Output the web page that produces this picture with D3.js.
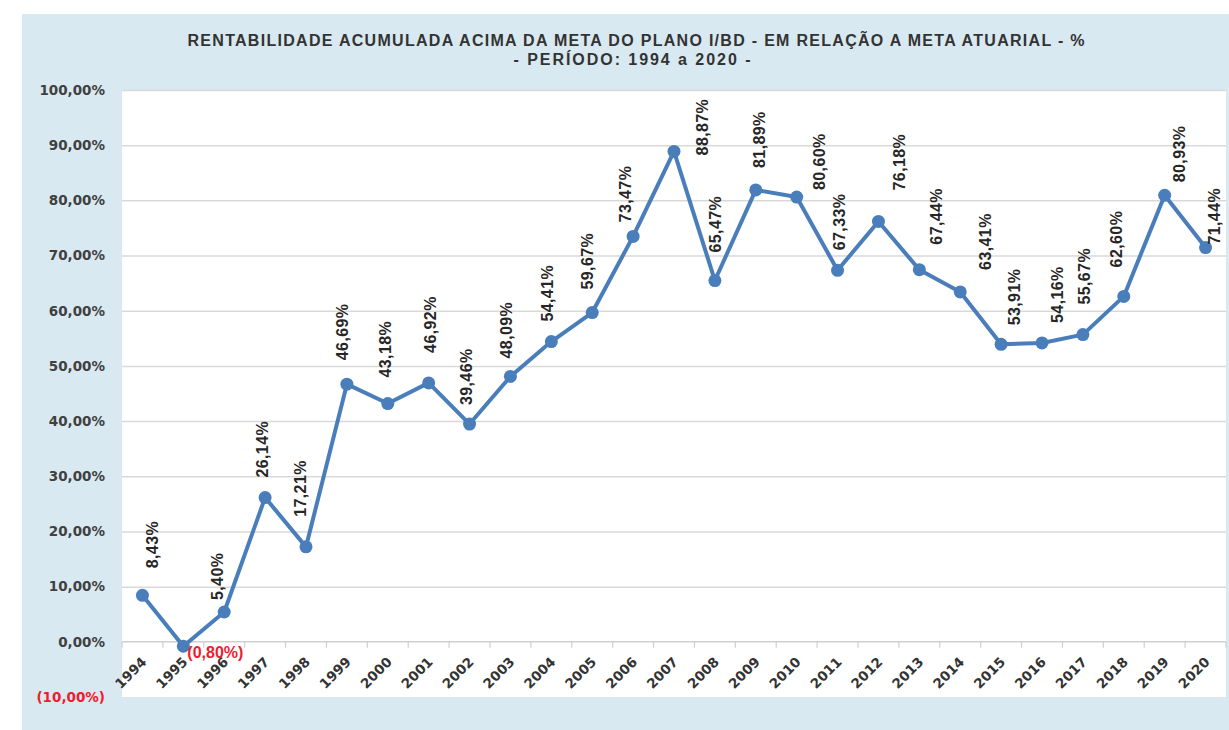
<!DOCTYPE html>
<html>
<head>
<meta charset="utf-8">
<script src="https://cdn.jsdelivr.net/npm/d3@7"></script>
<style>
  html, body { margin: 0; padding: 0; background: #ffffff; }
  svg { display: block; }
</style>
</head>
<body>
<svg id="chart" width="1229" height="730"></svg>
<script>
// ---- data ----
const years = [1994, 1995, 1996, 1997, 1998, 1999, 2000, 2001, 2002, 2003, 2004, 2005, 2006,
               2007, 2008, 2009, 2010, 2011, 2012, 2013, 2014, 2015, 2016, 2017, 2018, 2019, 2020];
const values = [8.43, -0.80, 5.40, 26.14, 17.21, 46.69, 43.18, 46.92, 39.46, 48.09, 54.41, 59.67, 73.47,
                88.87, 65.47, 81.89, 80.60, 67.33, 76.18, 67.44, 63.41, 53.91, 54.16, 55.67, 62.60, 80.93, 71.44];
const yTicks = [-10, 0, 10, 20, 30, 40, 50, 60, 70, 80, 90, 100];
const titleLines = [
  "RENTABILIDADE  ACUMULADA ACIMA DA META DO PLANO I/BD - EM RELAÇÃO A META ATUARIAL - %",
  "- PERÍODO: 1994 a 2020 -"
];

// hand placement of each value label: [horizontal shift, gap above the marker] in px
const labelNudge = [
  [10, 27], [4, -6], [-7, 12], [-3, 20], [-6, 30], [-4, 24], [-2, 26], [2, 30], [-3, 19],
  [-4, 18], [-4, 20], [-5, 23], [-8, 14], [28, -4], [1, 28], [4, 22], [23, 7], [2, 20],
  [21, 31], [17, 25], [25, 22], [13, 19], [15, 20], [2, 30], [-7, 29], [15, 13], [9, 3]
];

// ---- layout ----
const W = 1229, H = 730;
const plot = { left: 122, right: 1226, top: 90, bottom: 697 };
const lineColor = "#4a7ebb";
const textDark = "#262626";
const negRed = "#ee1c2e";

const svg = d3.select("#chart");

// pt-BR number format: 12,34%
const loc = d3.formatLocale({ decimal: ",", thousands: ".", grouping: [3], currency: ["R$ ", ""] });
const f2 = loc.format(".2f");
const pct = v => v < 0 ? `(${f2(-v)}%)` : `${f2(v)}%`;

const x = d3.scaleBand().domain(years).range([plot.left, plot.right]).padding(0);
const y = d3.scaleLinear().domain([-10, 100]).range([plot.bottom, plot.top]);
const cx = yr => x(yr) + x.bandwidth() / 2;

// chart background
svg.append("rect").attr("x", 22).attr("y", 14).attr("width", W - 22).attr("height", H - 14)
  .attr("fill", "#d9e9f1");
svg.append("rect").attr("x", plot.left).attr("y", plot.top)
  .attr("width", plot.right - plot.left).attr("height", plot.bottom - plot.top)
  .attr("fill", "#ffffff");

// title
const title = svg.append("g").attr("font-family", "'Liberation Sans', Arial, sans-serif")
  .attr("font-weight", "bold").attr("font-size", 16).attr("fill", "#333333")
  .attr("text-anchor", "middle").style("white-space", "pre");
title.append("text").attr("x", 636).attr("y", 46).text(titleLines[0])
  .attr("textLength", 897).attr("lengthAdjust", "spacing");
title.append("text").attr("x", 632).attr("y", 65).text(titleLines[1])
  .attr("textLength", 237).attr("lengthAdjust", "spacing");

// horizontal gridlines
svg.append("g").attr("transform", `translate(${plot.left},0)`)
  .call(d3.axisLeft(y).tickValues(yTicks.filter(t => t > 0))
    .tickSize(-(plot.right - plot.left)).tickFormat(""))
  .call(g => g.select(".domain").remove())
  .call(g => g.selectAll(".tick line").attr("stroke", "#d9d9d9").attr("stroke-width", 1.5));

// y tick labels
svg.append("g").selectAll("text").data(yTicks).join("text")
  .attr("x", 105).attr("y", d => y(d)).attr("dy", "0.36em")
  .attr("text-anchor", "end")
  .attr("font-family", "'DejaVu Sans', Verdana, sans-serif").attr("font-weight", "bold")
  .attr("font-size", 13.5)
  .attr("fill", d => d < 0 ? negRed : "#404040")
  .text(d => pct(d));

// category axis at zero
const y0 = y(0);
svg.append("line").attr("x1", plot.left).attr("x2", plot.right).attr("y1", y0).attr("y2", y0)
  .attr("stroke", "#d0d0d0").attr("stroke-width", 1.5);
const edges = years.map(yr => x(yr)).concat([x(years[years.length - 1]) + x.bandwidth()]);
svg.append("g").selectAll("line").data(edges).join("line")
  .attr("x1", d => d).attr("x2", d => d).attr("y1", y0).attr("y2", y0 + 6)
  .attr("stroke", "#d0d0d0").attr("stroke-width", 1.2);

svg.append("g").selectAll("text").data(years).join("text")
  .attr("transform", d => `translate(${cx(d) + 5},${y0 + 21}) rotate(-45)`)
  .attr("text-anchor", "end")
  .attr("font-family", "'DejaVu Sans', Verdana, sans-serif").attr("font-weight", "bold")
  .attr("font-size", 13.5).attr("fill", "#333333")
  .text(d => d);

// series line and markers
const pts = years.map((yr, i) => ({ yr, v: values[i], i }));
svg.append("path").datum(pts)
  .attr("d", d3.line().x(d => cx(d.yr)).y(d => y(d.v)))
  .attr("fill", "none").attr("stroke", lineColor).attr("stroke-width", 4)
  .attr("stroke-linejoin", "round");
svg.append("g").selectAll("circle").data(pts).join("circle")
  .attr("cx", d => cx(d.yr)).attr("cy", d => y(d.v)).attr("r", 6.5)
  .attr("fill", lineColor);

// value labels: vertical for positive values, horizontal red for negatives
const lab = svg.append("g").attr("font-family", "'Liberation Sans', Arial, sans-serif")
  .attr("font-weight", "bold").attr("font-size", 16);
lab.selectAll("text.pos").data(pts.filter(d => d.v >= 0)).join("text")
  .attr("class", "pos")
  .attr("transform", d => {
    const [dx, gap] = labelNudge[d.i];
    return `translate(${cx(d.yr) + dx},${y(d.v) - gap}) rotate(-90)`;
  })
  .attr("dy", "0.35em").attr("fill", textDark).attr("letter-spacing", 0.4)
  .text(d => pct(d.v));
lab.selectAll("text.neg").data(pts.filter(d => d.v < 0)).join("text")
  .attr("class", "neg")
  .attr("x", d => cx(d.yr) + labelNudge[d.i][0])
  .attr("y", d => y(d.v) - labelNudge[d.i][1])
  .attr("dy", "0.35em").attr("fill", negRed)
  .text(d => pct(d.v));
</script>
</body>
</html>
